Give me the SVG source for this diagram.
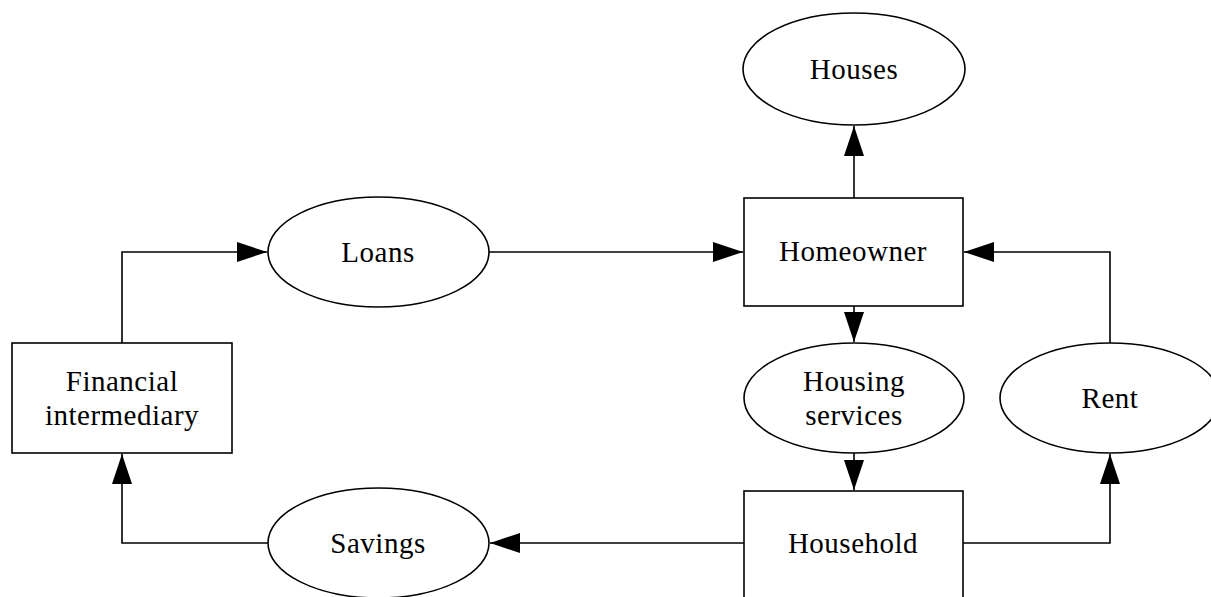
<svg xmlns="http://www.w3.org/2000/svg" width="1211" height="597" viewBox="0 0 1211 597">
<style>
.n{fill:#fff;stroke:#000;stroke-width:1.6}
.t{font-family:'Liberation Serif','DejaVu Serif','Times New Roman',serif;font-size:29px;fill:#000;text-anchor:middle;letter-spacing:0.5px}
.c{fill:none;stroke:#000;stroke-width:1.6}
</style>
<defs>
<marker id="ah" viewBox="0 0 30 20" markerWidth="30" markerHeight="20" refX="30" refY="10" orient="auto" markerUnits="userSpaceOnUse">
<path d="M0,0 L30,10 L0,20 z" fill="#000"/>
</marker>
</defs>
<rect width="1211" height="597" fill="#fff"/>
<g id="connectors">
<path class="c" d="M854,198 V126" marker-end="url(#ah)"/>
<path class="c" d="M489,252 H743" marker-end="url(#ah)"/>
<path class="c" d="M854,306 V342" marker-end="url(#ah)"/>
<path class="c" d="M854,453 V490" marker-end="url(#ah)"/>
<path class="c" d="M963,543 H1110 V454" marker-end="url(#ah)"/>
<path class="c" d="M1110,343 V252 H964" marker-end="url(#ah)"/>
<path class="c" d="M744,543 H490" marker-end="url(#ah)"/>
<path class="c" d="M268,543 H122 V454" marker-end="url(#ah)"/>
<path class="c" d="M122,343 V252 H267" marker-end="url(#ah)"/>
</g>
<g id="houses">
<ellipse class="n" cx="854" cy="69" rx="111" ry="56"/>
<text class="t" x="854" y="79">Houses</text>
</g>
<g id="homeowner">
<rect class="n" x="744" y="198" width="219" height="108"/>
<text class="t" x="853" y="261">Homeowner</text>
</g>
<g id="loans">
<ellipse class="n" cx="378.5" cy="252" rx="110.5" ry="55"/>
<text class="t" x="378" y="262">Loans</text>
</g>
<g id="housing-services">
<ellipse class="n" cx="854" cy="398" rx="110" ry="55"/>
<text class="t" x="854" y="391">Housing</text>
<text class="t" x="854" y="425">services</text>
</g>
<g id="rent">
<ellipse class="n" cx="1110" cy="398" rx="110" ry="55"/>
<text class="t" x="1110" y="408">Rent</text>
</g>
<g id="financial-intermediary">
<rect class="n" x="12" y="343" width="220" height="110"/>
<text class="t" x="122" y="391">Financial</text>
<text class="t" x="122" y="425">intermediary</text>
</g>
<g id="household">
<rect class="n" x="744" y="491" width="219" height="108"/>
<text class="t" x="853" y="553">Household</text>
</g>
<g id="savings">
<ellipse class="n" cx="378.5" cy="543" rx="110.5" ry="55"/>
<text class="t" x="378" y="553">Savings</text>
</g>
</svg>
